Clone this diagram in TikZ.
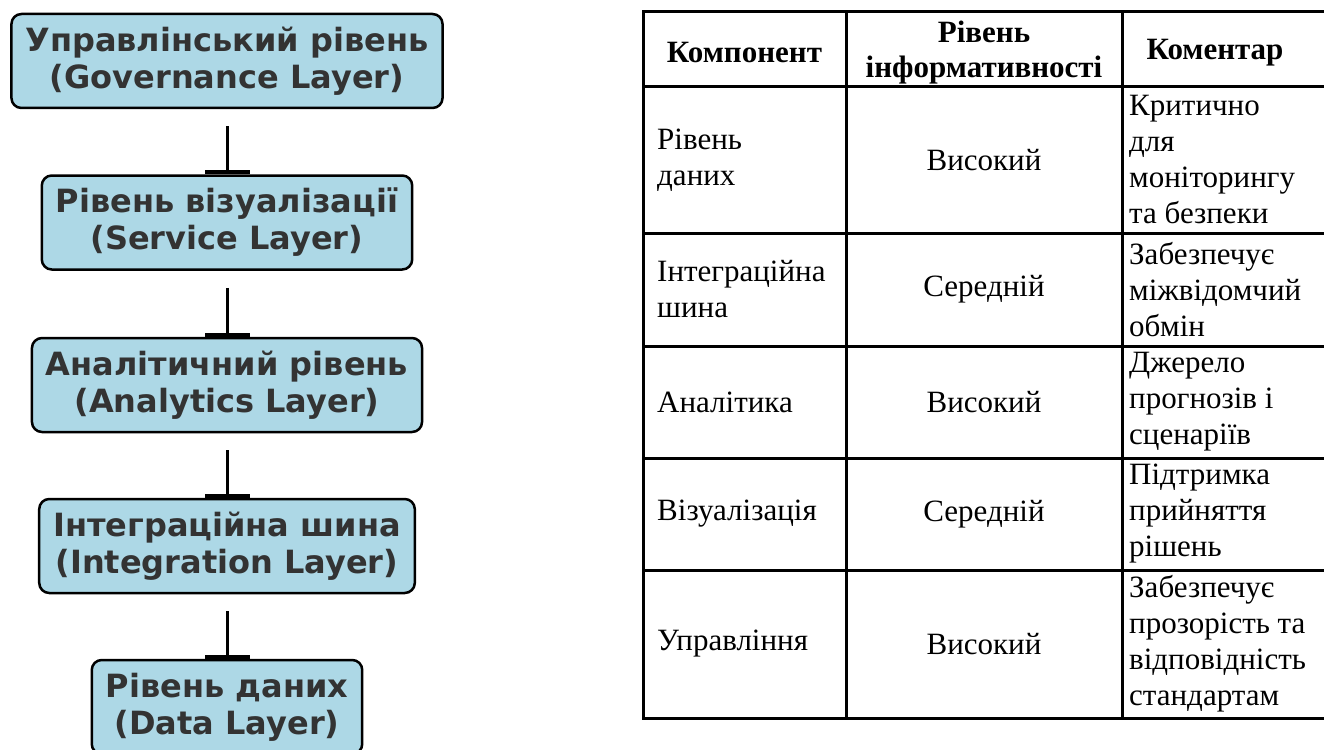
\documentclass[tikz,border=0pt]{standalone}
\usepackage{fontspec}
\setmainfont{Liberation Serif}
\newfontfamily\layerfont{DejaVu Sans}
\usetikzlibrary{arrows.meta,positioning}
\definecolor{LayerBlue}{HTML}{ADD8E6}
\definecolor{LayerInk} {HTML}{333333}
\tikzset{
  layer/.style={rectangle,rounded corners=10pt,draw=black,line width=2.5pt,
                fill=LayerBlue,text=LayerInk,align=center,
                font=\layerfont\bfseries\fontsize{32}{37}\selectfont,
                minimum height=94pt,inner xsep=14pt},
  link/.style={line width=3pt,-{Bar[width=45pt,line width=4pt]},
               shorten <=17pt},
  head/.style={inner sep=0pt,align=center,
               font=\bfseries\fontsize{31}{35}\selectfont},
  cell/.style={inner sep=0pt,align=left,anchor=west,
               font=\fontsize{31}{36}\selectfont},
  mid/.style={inner sep=0pt,font=\fontsize{31}{36}\selectfont},
  rule/.style={line width=3pt},
}

\begin{document}
\begin{tikzpicture}[x=1pt,y=-1pt]

  \useasboundingbox (0,0) rectangle (1324,749);

  % layer stack
  \node[layer] (gov)   at (227,61)    {Управлінський рівень\\(Governance Layer)};
  \node[layer] (vis)   at (227,222.5) {Рівень візуалізації\\(Service Layer)};
  \node[layer] (ana)   at (227,385)   {Аналітичний рівень\\(Analytics Layer)};
  \node[layer] (integ) at (227,546)   {Інтеграційна шина\\(Integration Layer)};
  \node[layer] (data)  at (227,707)   {Рівень даних\\(Data Layer)};

  \draw[link] (gov)   -- (vis);
  \draw[link] (vis)   -- (ana);
  \draw[link] (ana)   -- (integ);
  \draw[link] (integ) -- (data);

  % table grid
  \draw[rule] (1330,12) -- (643,12) -- (643,718) -- (1330,718);
  \draw[rule] (643,87)  -- (1330,87);
  \draw[rule] (643,233) -- (1330,233);
  \draw[rule] (643,346) -- (1330,346);
  \draw[rule] (643,458) -- (1330,458);
  \draw[rule] (643,570) -- (1330,570);
  \draw[rule] (846,12)  -- (846,718);
  \draw[rule] (1122,12) -- (1122,718);

  % header
  \node[head] (hcomp)  at (744.5,53) {Компонент};
  \node[head] (hlevel) at (984,53)   {Рівень\\інформативності};
  \node[head] (hnote)  at (1215,53)  {Коментар};

  % rows
  \node[cell] (cdata)  at (657,160)   {Рівень\\даних};
  \node[mid]  (ldata)  at (984,160)   {Високий};
  \node[cell] (ndata)  at (1129,160)  {Критично\\для\\моніторингу\\та безпеки};

  \node[cell] (cinteg) at (657,289.5) {Інтеграційна\\шина};
  \node[mid]  (linteg) at (984,289.5) {Середній};
  \node[cell] (ninteg) at (1129,289.5){Забезпечує\\міжвідомчий\\обмін};

  \node[cell] (cana)   at (657,402)   {Аналітика};
  \node[mid]  (lana)   at (984,402)   {Високий};
  \node[cell] (nana)   at (1129,402)  {Джерело\\прогнозів і\\сценаріїв};

  \node[cell] (cvis)   at (657,514)   {Візуалізація};
  \node[mid]  (lvis)   at (984,514)   {Середній};
  \node[cell] (nvis)   at (1129,514)  {Підтримка\\прийняття\\рішень};

  \node[cell] (cgov)   at (657,644)   {Управління};
  \node[mid]  (lgov)   at (984,644)   {Високий};
  \node[cell] (ngov)   at (1129,644)  {Забезпечує\\прозорість та\\відповідність\\стандартам};

\end{tikzpicture}
\end{document}
